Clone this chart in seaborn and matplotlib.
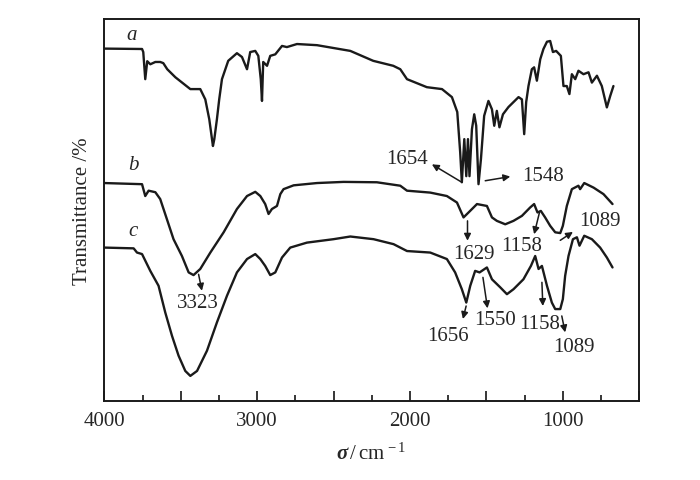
import numpy as np
import pandas as pd
import matplotlib
matplotlib.use("Agg")
import matplotlib.pyplot as plt
from matplotlib.ticker import MultipleLocator, FuncFormatter
import seaborn as sns

# spectra (wavenumber / cm-1, transmittance in plot units)
wn_a = [4000, 3753, 3745, 3732, 3719, 3699, 3666, 3634, 3614, 3588, 3535, 3437, 3372, 3339,
        3313, 3289, 3280, 3263, 3248, 3230, 3189, 3132, 3099, 3066, 3045, 3012, 2992, 2976,
        2968, 2960, 2935, 2914, 2881, 2837, 2805, 2739, 2608, 2390, 2240, 2109, 2063, 2019,
        1889, 1790, 1725, 1690, 1671, 1660, 1644, 1631, 1620, 1610, 1594, 1579, 1566, 1551,
        1535, 1514, 1486, 1463, 1448, 1431, 1414, 1391, 1355, 1322, 1289, 1267, 1252, 1239,
        1224, 1202, 1187, 1169, 1147, 1126, 1103, 1082, 1064, 1043, 1012, 995, 973, 956, 940,
        918, 897, 864, 831, 809, 776, 744, 711, 689, 668]
t_a = [92.3, 92.2, 91.4, 84.3, 89.0, 88.2, 88.8, 88.8, 88.5, 86.9, 84.8, 81.7, 81.7, 79.0,
       73.8, 66.8, 68.6, 73.8, 79.0, 84.3, 89.1, 91.1, 90.1, 86.9, 91.4, 91.7, 90.4, 84.3,
       78.6, 88.8, 87.8, 90.4, 90.8, 93.0, 92.7, 93.5, 93.2, 91.7, 89.1, 87.8, 86.9, 84.3,
       82.2, 81.7, 79.6, 75.7, 65.2, 57.3, 68.6, 58.9, 68.6, 58.9, 71.2, 75.1, 72.1, 56.8,
       63.4, 74.7, 78.6, 76.4, 72.1, 76.0, 71.7, 75.1, 77.0, 78.3, 79.6, 79.0, 69.9, 78.3,
       82.5, 86.9, 87.4, 83.9, 89.5, 92.2, 94.1, 94.3, 91.4, 91.7, 90.4, 82.5, 82.5, 80.4, 85.6,
       84.3, 86.5, 85.6, 86.1, 83.4, 85.2, 82.5, 76.9, 79.9, 82.5]

wn_b = [4000, 3753, 3732, 3710, 3666, 3634, 3590, 3547, 3492, 3448, 3416, 3372, 3306, 3219,
        3132, 3066, 3012, 2979, 2947, 2925, 2903, 2870, 2848, 2827, 2761, 2608, 2434, 2216,
        2063, 2019, 1867, 1758, 1692, 1649, 1616, 1561, 1496, 1463, 1431, 1376, 1322, 1267,
        1213, 1187, 1165, 1143, 1115, 1082, 1049, 1016, 999, 973, 940, 897, 886, 859, 798,
        733, 674]
t_b = [57.1, 56.8, 53.7, 55.1, 54.7, 52.9, 47.6, 42.4, 38.0, 33.7, 33.0, 34.6, 38.9, 44.2,
       50.3, 53.7, 54.8, 53.7, 51.6, 49.0, 50.3, 51.1, 54.2, 55.5, 56.5, 57.1, 57.4, 57.3,
       56.4, 55.1, 54.6, 53.7, 52.0, 48.1, 49.4, 51.6, 51.1, 48.1, 47.2, 46.3, 47.2, 48.5,
       50.7, 51.6, 49.4, 49.8, 48.1, 45.9, 44.2, 44.0, 45.9, 51.1, 55.5, 56.4, 55.5, 57.1, 55.9,
       54.2, 51.6]

wn_c = [4000, 3808, 3786, 3753, 3699, 3645, 3601, 3557, 3514, 3470, 3437, 3393, 3328, 3263,
        3197, 3132, 3066, 3012, 2979, 2947, 2914, 2881, 2837, 2783, 2674, 2500, 2390, 2238,
        2107, 2063, 2019, 1867, 1758, 1704, 1660, 1631, 1605, 1573, 1544, 1496, 1463, 1409,
        1365, 1322, 1257, 1208, 1180, 1158, 1136, 1103, 1071, 1049, 1016, 999, 984, 962, 933,
        907, 890, 859, 809, 755, 711, 674]
t_c = [40.2, 40.0, 38.9, 38.5, 34.1, 30.2, 23.2, 17.1, 11.9, 7.9, 6.6, 7.9, 13.2, 20.6,
       27.6, 33.7, 37.2, 38.5, 37.2, 35.4, 33.0, 33.7, 37.6, 40.2, 41.5, 42.4, 43.1, 42.4,
       41.1, 40.2, 39.3, 38.9, 37.2, 33.7, 29.3, 25.8, 30.2, 34.1, 33.7, 35.0, 31.9, 29.8,
       28.0, 29.3, 31.9, 35.4, 38.0, 34.6, 35.4, 30.2, 25.8, 24.1, 24.1, 26.7, 32.8, 38.0, 42.4,
       42.9, 40.7, 43.3, 42.4, 40.2, 37.6, 35.0]

# curve names and where they are written
curve_names = ["a", "b", "c"]
name_pos = [(3819, 96.1), (3810, 62.0), (3810, 44.6)]

# peak labels: text, text position, arrow start, arrow end
peak_text = ["1654", "1548", "1629", "1158", "1089", "3323", "1656", "1550", "1158", "1089"]
peak_xy = [(2020, 63.4), (1128, 59.0), (1584, 38.7), (1267, 40.8), (755, 47.2),
           (3390, 25.7), (1748, 17.3), (1442, 21.3), (1149, 20.4), (929, 14.3)]
arrow_from = [(1660, 57.3), (1507, 57.7), (1623, 47.2), (1152, 49.4), (1016, 42.1),
              (3383, 33.2), (1632, 24.9), (1522, 32.4), (1136, 31.1), (1006, 22.3)]
arrow_to = [(1856, 62.0), (1343, 58.8), (1623, 42.0), (1187, 43.7), (933, 44.3),
            (3361, 28.9), (1653, 21.5), (1492, 24.3), (1130, 24.9), (984, 18.0)]

df = pd.concat([
    pd.DataFrame({"wn": wn_a, "T": t_a, "curve": "a"}),
    pd.DataFrame({"wn": wn_b, "T": t_b, "curve": "b"}),
    pd.DataFrame({"wn": wn_c, "T": t_c, "curve": "c"}),
])

sns.set_theme(style="ticks")
plt.rcParams["font.family"] = ["Liberation Serif", "DejaVu Serif"]
plt.rcParams["mathtext.fontset"] = "custom"
plt.rcParams["mathtext.rm"] = "Liberation Serif"
plt.rcParams["mathtext.it"] = "Liberation Serif:italic"
plt.rcParams["mathtext.bf"] = "Liberation Serif:bold:italic"

fig, ax = plt.subplots(figsize=(7, 4.81), dpi=100)
fig.subplots_adjust(left=0.149, right=0.913, bottom=0.164, top=0.958)

sns.lineplot(data=df, x="wn", y="T", hue="curve", palette=["k", "k", "k"],
             estimator=None, sort=False, lw=1.7, legend=False, ax=ax)

for name, (x, y) in zip(curve_names, name_pos):
    ax.text(x, y, name, fontsize=15, style="italic", ha="center", va="center")

for txt, (x, y), p0, p1 in zip(peak_text, peak_xy, arrow_from, arrow_to):
    ax.text(x, y, txt, fontsize=15, ha="center", va="center")
    ax.annotate("", xy=p1, xytext=p0,
                arrowprops=dict(arrowstyle="-|>", color="k", lw=1.1,
                                mutation_scale=10, shrinkA=0, shrinkB=0))

ax.set_xlim(4000, 500)
ax.set_ylim(0, 100)
ax.set_yticks([])
ax.xaxis.set_major_locator(MultipleLocator(500))
ax.xaxis.set_minor_locator(MultipleLocator(250))
ax.xaxis.set_major_formatter(FuncFormatter(lambda v, p: f"{int(v)}" if v % 1000 == 0 else ""))
ax.tick_params(axis="x", which="major", direction="in", length=7, width=1.3,
               labelsize=15, pad=7, top=False)
ax.tick_params(axis="x", which="minor", direction="in", length=4, width=1.3, top=False)

for s in ax.spines.values():
    s.set_visible(True)
    s.set_linewidth(1.4)
    s.set_color("k")

ax.set_xlabel(r"$\mathbf{\sigma}\,/\,\mathrm{cm}^{\,-1}$", fontsize=15, labelpad=9)
ax.set_ylabel("Transmittance /%", fontsize=15, labelpad=9)

fig.savefig("out.png", dpi=100)
